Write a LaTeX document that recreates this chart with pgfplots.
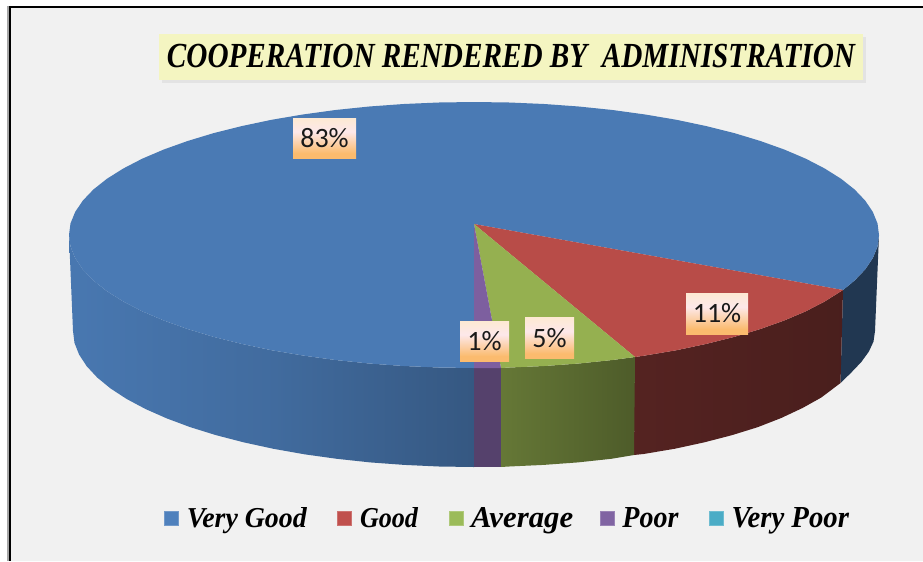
\documentclass[border=0pt]{standalone}
\usepackage{pgfplots}
\pgfplotsset{compat=1.18}
\usepackage{fontspec}
\setmainfont{Liberation Serif}
\newfontfamily\lblfont{Carlito}
\usetikzlibrary{shadows}

\definecolor{bgc}{HTML}{F1F1F1}
\definecolor{topblue}{HTML}{4A7AB4}
\definecolor{topred}{HTML}{B84C48}
\definecolor{topgreen}{HTML}{95B050}
\definecolor{toppurple}{HTML}{7D5F9F}
\definecolor{lgblue}{HTML}{4F81BD}
\definecolor{lgred}{HTML}{C0504D}
\definecolor{lggreen}{HTML}{9BBB59}
\definecolor{lgpurple}{HTML}{8064A2}
\definecolor{lgteal}{HTML}{4BACC6}
\definecolor{labeltop}{HTML}{FDE9D3}
\definecolor{labelmid}{HTML}{FDE8EA}
\definecolor{labelbot}{HTML}{FBBB6E}

\pgfdeclareverticalshading{lblshade}{100bp}{
  color(0bp)=(labelbot); color(31bp)=(labelbot); color(58bp)=(labelmid);
  color(75bp)=(labeltop); color(100bp)=(labeltop)}

% legend text squeezed to the width it has in the original
\newcommand{\lgtext}[2]{\resizebox{#1}{15pt}{\bfseries\itshape #2}}

\begin{document}
\begin{tikzpicture}[
  lbl/.style={font=\lblfont\fontsize{21}{22}\selectfont, inner sep=0pt, text=black!90,
    shading=lblshade, anchor=center},
]
\begin{axis}[
    scale only axis,
    width=692.25pt, height=420.75pt,
    xmin=0, xmax=923, ymin=0, ymax=561,
    y dir=reverse,
    hide axis,
    clip=true,
    legend columns=-1,
    legend cell align=left,
    legend image code/.code={\filldraw[#1] (0pt,-5.25pt) rectangle (10.5pt,5.25pt);},
    legend style={at={(axis cs:164,518)}, anchor=west, draw=none, fill=none, inner sep=0pt,
      nodes={inner sep=0pt},
      /tikz/every even column/.append style={column sep=23pt},
      /tikz/every odd column/.append style={column sep=6pt}},
]
% page and frame
\addplot[fill=white, draw=none, forget plot] coordinates {(0,0) (923,0) (923,561) (0,561)} \closedcycle;
\addplot[fill=bgc, draw=none, forget plot] coordinates {(10,7) (923,7) (923,561) (10,561)} \closedcycle;
\addplot[draw=black!35, line width=1pt, forget plot] coordinates {(8,561) (8,5.5)};
\addplot[draw=black, line width=2pt, forget plot] coordinates {(10,561) (10,7) (923,7)};

% side wall, blue, left part
\addplot[draw=none, left color=topblue!98!black, right color=topblue!72!black, middle color=topblue!88!black, forget plot] coordinates {
 (69,235) (70.5,246.6) (75.2,258.1) (82.8,269.4) (93.4,280.5) (106.9,291.2) (123.3,301.5) (142.2,311.3)
 (163.8,320.5) (187.6,329) (213.7,336.9) (241.7,343.9) (271.5,350.2) (302.8,355.5) (335.5,360)
 (369.2,363.5) (403.7,366) (438.7,367.5) (474,368)
 (474,467) (439,466.5) (404.4,464.9) (370.2,462.4) (336.8,458.8) (304.5,454.3) (273.5,448.8) (244,442.4)
 (216.2,435.2) (190.4,427.2) (166.8,418.4) (145.5,409) (126.7,399) (110.6,388.5) (97.2,377.5) (86.7,366.2)
 (79.1,354.6) (74.5,342.9) (73,331)
} -- cycle;
% side wall, blue, right part
\addplot[draw=none, forget plot, fill=topblue!45!black] coordinates {
 (879,235) (877.5,246.6) (872.8,258.1) (865.2,269.4) (854.6,280.5) (843,290)
 (840.5,383) (850.8,373) (861.3,362) (868.9,351.5) (873.5,341.5) (875,331)
} -- cycle;
% side wall, red
\addplot[draw=none, left color=topred!46!black, right color=topred!40!black, forget plot] coordinates {
 (843,290) (841.1,291.2) (824.7,301.5) (805.8,311.3) (784.2,320.5) (760.4,329) (734.3,336.9) (706.3,343.9)
 (676.5,350.2) (645.2,355.5) (635,357)
 (634,455) (643.5,454) (674.5,448.8) (704,442.4) (731.8,435.2) (757.6,427.2) (781.2,418) (802.5,408)
 (821.3,397.5) (840.5,383)
} -- cycle;
% side wall, green
\addplot[draw=none, left color=topgreen!68!black, right color=topgreen!52!black, forget plot] coordinates {
 (501,368) (509.3,367.5) (544.3,366) (578.8,363.5) (612.5,360) (635,357)
 (634,455) (611.2,458.8) (577.8,462.4) (543.6,464.9) (509,466.5) (501,467)
} -- cycle;
% side wall, purple
\addplot[fill=toppurple!68!black, draw=none, forget plot] coordinates {
 (474,368) (501,368) (501,467) (474,467)
} -- cycle;

% top face, blue 83%
\addplot[fill=topblue, draw=none, forget plot] coordinates {
 (474,224) (843,290) (854.6,280.5) (865.2,269.4) (872.8,258.1) (877.5,246.6) (879,235)
 (877.5,223.4) (872.8,211.9) (865.2,200.6) (854.6,189.5) (841.1,178.8) (824.7,168.5) (805.8,158.7)
 (784.2,149.5) (760.4,141) (734.3,133.1) (706.3,126.1) (676.5,119.8) (645.2,114.5) (612.5,110)
 (578.8,106.5) (544.3,104) (509.3,102.5) (474,102)
 (438.7,102.5) (403.7,104) (369.2,106.5) (335.5,110) (302.8,114.5) (271.5,119.8) (241.7,126.1)
 (213.7,133.1) (187.6,141) (163.8,149.5) (142.2,158.7) (123.3,168.5) (106.9,178.8) (93.4,189.5)
 (82.8,200.6) (75.2,211.9) (70.5,223.4) (69,235)
 (70.5,246.6) (75.2,258.1) (82.8,269.4) (93.4,280.5) (106.9,291.2) (123.3,301.5) (142.2,311.3)
 (163.8,320.5) (187.6,329) (213.7,336.9) (241.7,343.9) (271.5,350.2) (302.8,355.5) (335.5,360)
 (369.2,363.5) (403.7,366) (438.7,367.5) (474,368)
} -- cycle;
% top face, red 11%
\addplot[fill=topred, draw=none, forget plot] coordinates {
 (474,224) (843,290) (841.1,291.2) (824.7,301.5) (805.8,311.3) (784.2,320.5) (760.4,329) (734.3,336.9)
 (706.3,343.9) (676.5,350.2) (645.2,355.5) (635,357)
} -- cycle;
% top face, green 5%
\addplot[fill=topgreen, draw=none, forget plot] coordinates {
 (474,224) (635,357) (612.5,360) (578.8,363.5) (544.3,366) (509.3,367.5) (501,368)
} -- cycle;
% top face, purple 1%
\addplot[fill=toppurple, draw=none, forget plot] coordinates {
 (474,224) (501,368) (474,368)
} -- cycle;

% legend
\addlegendimage{fill=lgblue, draw=lgblue!80!white}
\addlegendentry{\lgtext{90pt}{Very Good}}
\addlegendimage{fill=lgred, draw=lgred!80!white}
\addlegendentry{\lgtext{43.5pt}{Good}}
\addlegendimage{fill=lggreen, draw=lggreen!80!white}
\addlegendentry{\lgtext{76.5pt}{Average}\kern-3pt\mbox{}}
\addlegendimage{fill=lgpurple, draw=lgpurple!80!white}
\addlegendentry{\lgtext{42pt}{Poor}}
\addlegendimage{fill=lgteal, draw=lgteal!80!white}
\addlegendentry{\lgtext{88pt}{Very Poor}}

% title
\node[fill={rgb,255:red,244;green,245;blue,193}, inner sep=0pt, minimum width=528pt, minimum height=34.5pt,
  drop shadow={opacity=.12, shadow xshift=2.5pt, shadow yshift=-2.5pt}]
  at (axis cs:511,56.5) {\resizebox{516pt}{17.5pt}{\bfseries\itshape COOPERATION RENDERED BY\ \ ADMINISTRATION}};

% data labels
\node[lbl, minimum width=47.25pt, minimum height=30pt] at (axis cs:324.5,138) {83\%};
\node[lbl, minimum width=46.5pt, minimum height=30.75pt] at (axis cs:717,313.5) {11\%};
\node[lbl, minimum width=36.75pt, minimum height=30pt] at (axis cs:484.5,341) {1\%};
\node[lbl, minimum width=36.75pt, minimum height=30.75pt] at (axis cs:549.5,338) {5\%};
\end{axis}
\end{tikzpicture}
\end{document}
